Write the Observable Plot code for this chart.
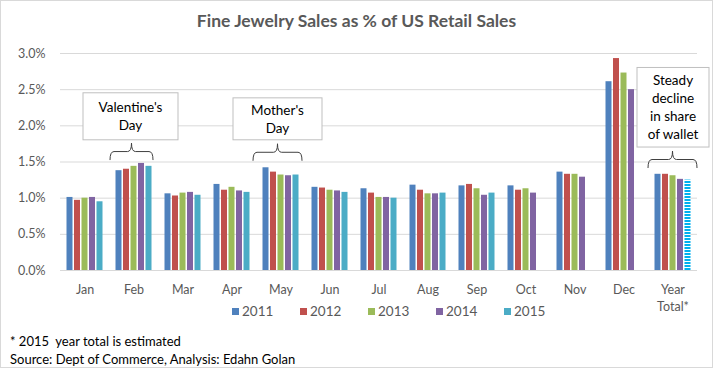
<!DOCTYPE html>
<html><head><meta charset="utf-8">
<script src="https://cdn.jsdelivr.net/npm/d3@7"></script>
<script src="https://cdn.jsdelivr.net/npm/@observablehq/plot@0.6"></script>
<style>
body{margin:0;background:#fff;font-family:Lato,"Open Sans",sans-serif;}
#wrap{position:relative;width:713px;height:368px;box-sizing:border-box;border:1px solid #d9d9d9;overflow:hidden;}
#title{height:39px;line-height:40px;text-align:center;font-weight:bold;font-size:17.5px;color:#595959;}
#legend{position:absolute;left:231px;top:302px;display:flex;gap:0;font-size:13.5px;color:#595959;}
#legend .it{display:flex;align-items:center;width:68px;}
#legend .sw{width:7px;height:7px;margin-right:3px;}
#foot{position:absolute;left:9px;top:331px;font-size:13px;color:#000;line-height:18px;}
</style></head>
<body><div id="wrap"><div id="title">Fine Jewelry Sales as % of US Retail Sales</div><div id="chart"></div><div id="legend"></div><div id="foot">* 2015&nbsp; year total is estimated<br>Source: Dept of Commerce, Analysis: Edahn Golan</div></div>
<script>
const months = ["Jan","Feb","Mar","Apr","May","Jun","Jul","Aug","Sep","Oct","Nov","Dec","Year Total*"];
const years = ["2011","2012","2013","2014","2015"];
const s2011 = [1.01,1.38,1.06,1.19,1.42,1.15,1.13,1.18,1.17,1.17,1.36,2.61,1.33];
const s2012 = [0.97,1.40,1.03,1.11,1.36,1.14,1.07,1.11,1.19,1.11,1.33,2.93,1.33];
const s2013 = [1.00,1.44,1.07,1.15,1.32,1.11,1.01,1.06,1.13,1.13,1.33,2.73,1.31];
const s2014 = [1.01,1.48,1.08,1.10,1.31,1.10,1.01,1.06,1.04,1.07,1.29,2.50,1.26];
const s2015 = [0.95,1.44,1.04,1.08,1.32,1.08,1.00,1.07,1.07,null,null,null,1.25];
const yTicks = [0,0.5,1.0,1.5,2.0,2.5,3.0];
const estYear = "2015", estMonth = "Year Total*";
const notes = [
  {month:"Feb", lines:["Valentine's","Day"]},
  {month:"May", lines:["Mother's","Day"]},
  {month:"Year Total*", lines:["Steady","decline","in share","of wallet"]}
];

const series = [s2011,s2012,s2013,s2014,s2015];
const colors = ["#4F81BD","#C0504D","#9BBB59","#8064A2","#4BACC6"];
const rows = [];
months.forEach((m,i)=>series.forEach((s,j)=>{
  if (s[i]!=null) rows.push({month:m, year:years[j], value:s[i], est: years[j]===estYear && m===estMonth});
}));

const step = 7.5, inset = 21.5;
const marks = [
  Plot.gridY(yTicks, {stroke:"#d9d9d9", strokeOpacity:1}),
  ...years.map((y,j)=>Plot.barY(rows.filter(r=>r.year===y && !r.est), {x:"month", y:"value", fill:colors[j], dx:(j-2)*step, insetLeft:inset, insetRight:inset})),
  Plot.barY(rows.filter(r=>r.est), {x:"month", y:"value", fill:"url(#stripes)", dx:(years.indexOf(estYear)-2)*step, insetLeft:inset, insetRight:inset}),
  Plot.axisY(yTicks, {tickSize:0, tickPadding:15, tickFormat:d=>d.toFixed(1)+"%"}),
  Plot.axisX({tickSize:0, tickPadding:11, tickFormat:d=>d.replace(" ","\n"), lineHeight:1.4})
];

const plot = Plot.plot({
  width:711, height:275,
  marginLeft:59, marginRight:15, marginTop:13, marginBottom:45,
  x:{domain:months, padding:0, label:null},
  y:{domain:[0,3.0], label:null},
  style:{fontFamily:"Lato, 'Open Sans', sans-serif", fontSize:"12.5px", color:"#595959", background:"white", overflow:"visible"},
  marks
});
document.getElementById("chart").appendChild(plot);

const svg = d3.select(plot);
svg.insert("defs", ":first-child").html('<pattern id="stripes" width="6" height="3" patternUnits="userSpaceOnUse"><rect width="6" height="3" fill="#fff"/><rect width="6" height="2" fill="#00B0F0"/></pattern>');

const xs = plot.scale("x"), ys = plot.scale("y");
const cx = m => xs.apply(m) + xs.bandwidth/2;
const layout = {
  "Feb": {boxDx:-3, boxW:95, top:2.45, bottom:1.80, braceDx:-2, braceW:43, braceBottom:1.52},
  "May": {boxDx:-3, boxW:89, top:2.38, bottom:1.80, braceDx:-3, braceW:49, braceBottom:1.51},
  "Year Total*": {boxDx:0.5, boxW:72, top:2.80, bottom:1.70, braceDx:0, braceW:49, braceBottom:1.41}
};
const g = svg.append("g");
notes.forEach(n=>{
  const L = layout[n.month];
  const c = cx(n.month) + L.boxDx;
  const y0 = ys.apply(L.top), y1 = ys.apply(L.bottom);
  g.append("rect").attr("x", c - L.boxW/2).attr("y", y0).attr("width", L.boxW).attr("height", y1-y0)
    .attr("fill","#fff").attr("stroke","#bfbfbf");
  const lh = 18, n0 = n.lines.length, mid = (y0+y1)/2;
  n.lines.forEach((t,i)=>{
    g.append("text").attr("x", c).attr("y", mid + (i-(n0-1)/2)*lh).attr("dy","0.35em")
      .attr("text-anchor","middle").attr("fill","#000").attr("font-size","13.5px").text(t);
  });
  const bc = cx(n.month) + L.braceDx, hw = L.braceW/2;
  const yb = ys.apply(L.braceBottom), ym = yb-8.5, yt = yb-17, r = 4;
  const x0 = bc-hw, x1 = bc+hw;
  g.append("path").attr("fill","none").attr("stroke","#404040").attr("stroke-width",1)
    .attr("d", `M${x0},${yb} Q${x0},${ym} ${x0+r},${ym} L${bc-r},${ym} Q${bc},${ym} ${bc},${yt} Q${bc},${ym} ${bc+r},${ym} L${x1-r},${ym} Q${x1},${ym} ${x1},${yb}`);
});

const lg = document.getElementById("legend");
years.forEach((y,j)=>{
  const it = document.createElement("div"); it.className="it";
  it.innerHTML = `<div class="sw" style="background:${colors[j]}"></div><span>${y}</span>`;
  lg.appendChild(it);
});
</script></body></html>
